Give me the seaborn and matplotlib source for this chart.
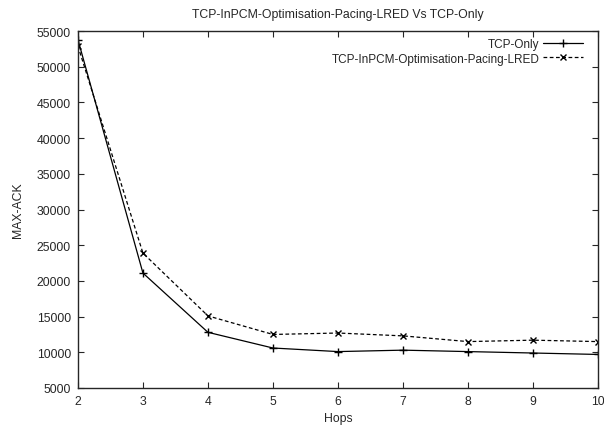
import matplotlib
matplotlib.use("Agg")
import matplotlib.pyplot as plt
import seaborn as sns

hops = [2, 3, 4, 5, 6, 7, 8, 9, 10]
tcp_only = [53800, 21100, 12800, 10600, 10100, 10300, 10100, 9900, 9700]
tcp_inpcm = [52900, 23900, 15100, 12500, 12700, 12300, 11500, 11700, 11500]
series_names = ["TCP-Only", "TCP-InPCM-Optimisation-Pacing-LRED"]
title = "TCP-InPCM-Optimisation-Pacing-LRED Vs TCP-Only"

sns.set_style("ticks")
plt.rcParams['font.family'] = ['Liberation Sans', 'DejaVu Sans']
FS = 8.8

fig = plt.figure(figsize=(6.04, 4.27), dpi=100)
ax = fig.add_axes([0.129, 0.089, 0.861, 0.836])

sns.lineplot(x=hops, y=tcp_only, color="black", linewidth=0.9, ax=ax,
             marker="+", markersize=6, markeredgewidth=1.0, markeredgecolor="black",
             label=series_names[0])
sns.lineplot(x=hops, y=tcp_inpcm, color="black", linewidth=0.9, ax=ax,
             marker="x", markersize=5, markeredgewidth=1.0, markeredgecolor="black",
             linestyle=(0, (3, 2)), label=series_names[1])

ax.set_xlim(2, 10)
ax.set_ylim(5000, 55000)
ax.set_xticks(range(2, 11))
ax.set_yticks(range(5000, 55001, 5000))
ax.tick_params(direction="in", top=True, right=True, labelsize=FS, length=4, width=0.8, pad=5)
for s in ax.spines.values():
    s.set_linewidth(1.0)
    s.set_visible(True)
ax.set_xlabel("Hops", fontsize=FS, labelpad=4)
ax.set_ylabel("MAX-ACK", fontsize=FS, labelpad=9)
ax.set_title(title, fontsize=FS, pad=10)

leg = ax.legend(frameon=False, markerfirst=False, loc="upper right",
                bbox_to_anchor=(0.971, 0.98), fontsize=8.5,
                handlelength=3.4, borderaxespad=0, borderpad=0,
                labelspacing=0.2, handletextpad=0.3)
leg._legend_box.align = "right"

fig.savefig("out.png", dpi=100)
